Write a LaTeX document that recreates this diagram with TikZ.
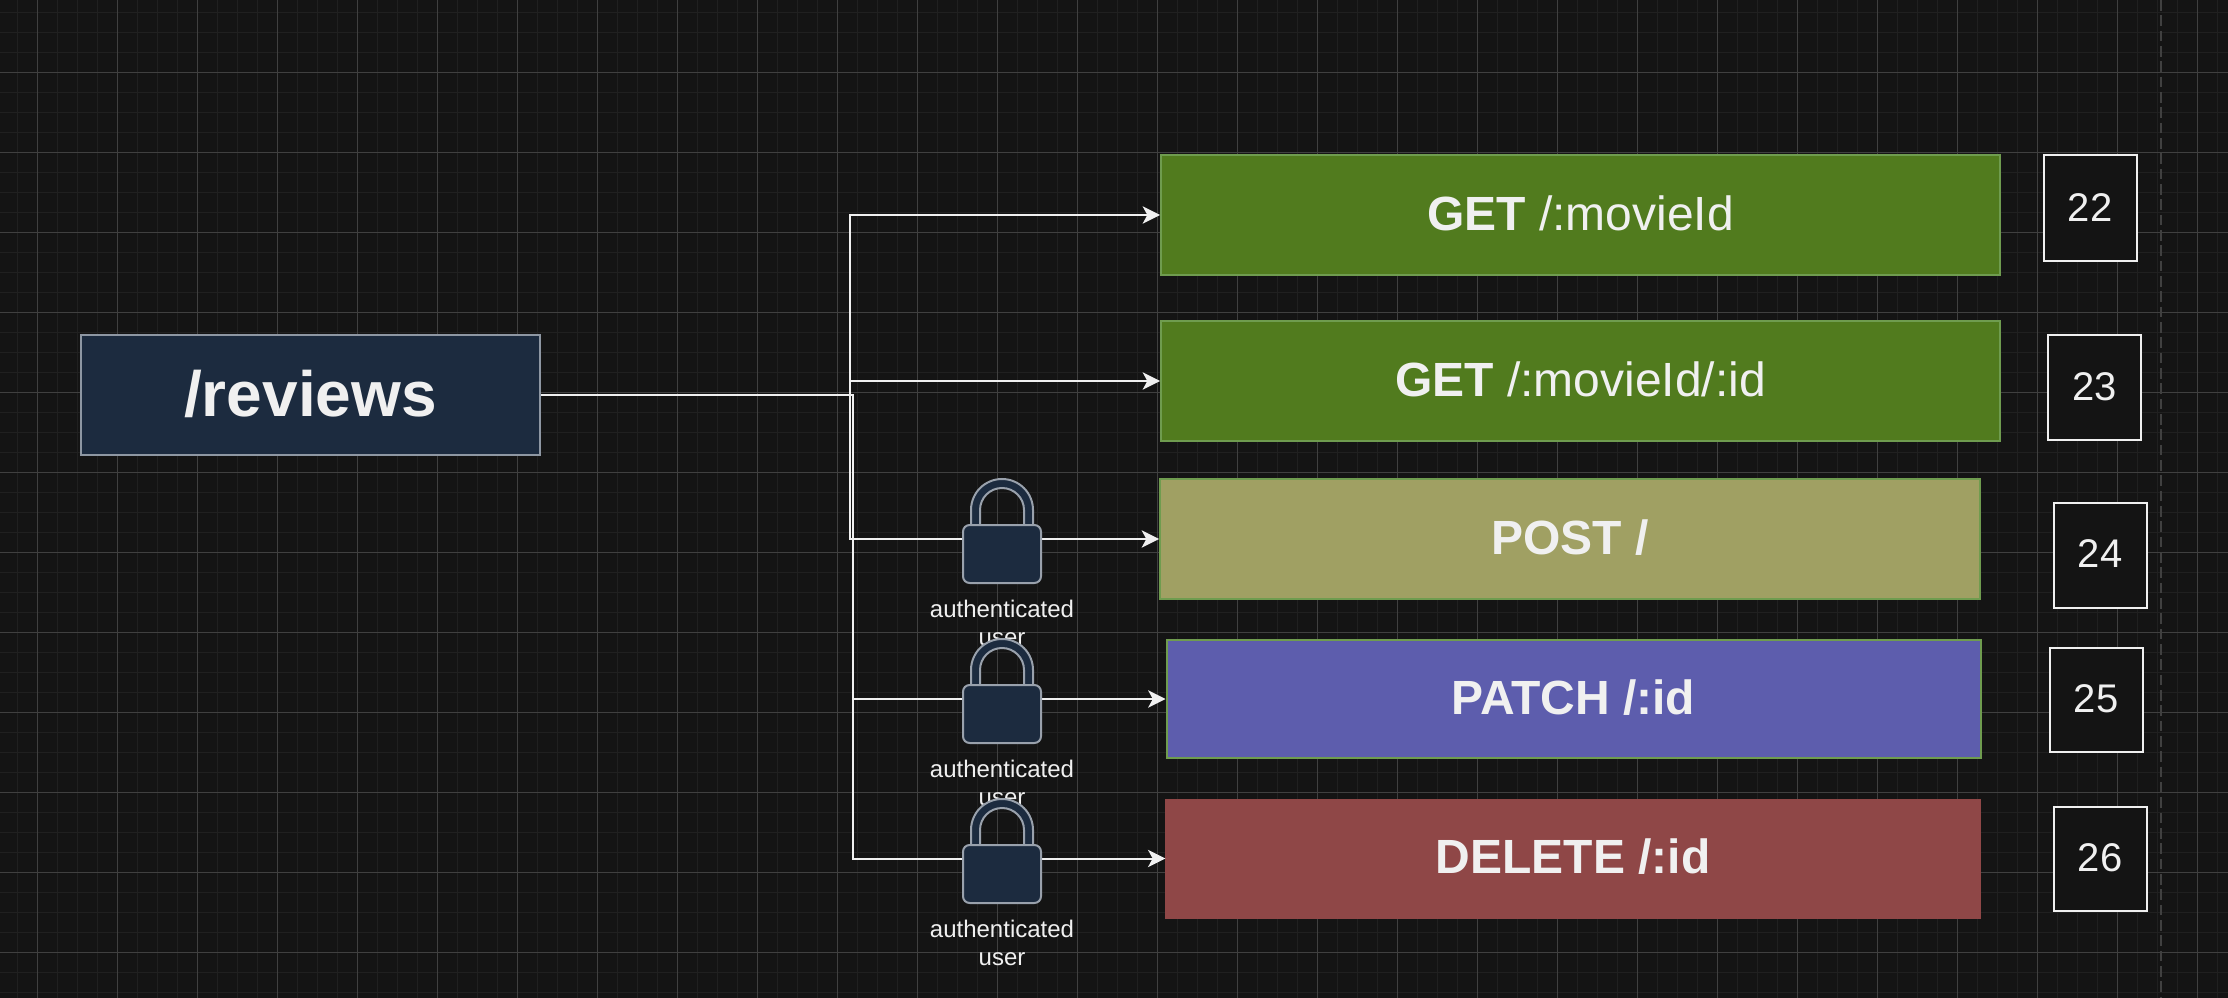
\documentclass[tikz,border=0pt]{standalone}
\usepackage{fontspec}
\setmainfont{Liberation Sans}
\usetikzlibrary{arrows.meta}
\definecolor{canvasbg}{HTML}{141414}
\definecolor{gridminor}{HTML}{202020}
\definecolor{gridmajor}{HTML}{404040}
\definecolor{inktext}{HTML}{F0F0F0}
\definecolor{navyfill}{HTML}{1C2B3F}
\definecolor{navyline}{HTML}{8E97A3}
\definecolor{greenfill}{HTML}{517B1E}
\definecolor{olivefill}{HTML}{A0A063}
\definecolor{indigofill}{HTML}{5D5DAD}
\definecolor{brickfill}{HTML}{8F4747}
\definecolor{routeline}{HTML}{6F9C4F}
\tikzset{
  route/.style={draw=routeline, line width=1.5pt, text=inktext, inner sep=0pt, text depth=3pt, font=\fontsize{36}{42}\selectfont},
  count/.style={draw=inktext, fill=canvasbg, line width=1.5pt, text=inktext, inner sep=0pt, text depth=1.5pt, font=\fontsize{30}{36}\selectfont},
  wire/.style={draw=inktext, line width=1.5pt},
  arrowwire/.style={wire, -{Stealth[length=13pt,width=13pt,inset=3.5pt]}},
  lockicon/.pic={
    \draw[draw=navyline!90!white, fill=navyfill, line width=1.5pt] (-31,0) -- (-31,-15) arc[start angle=180,end angle=360,radius=31] -- (31,0) -- (22,0) -- (22,-15) arc[start angle=0,end angle=-180,radius=22] -- (-22,0) -- cycle;
    \draw[draw=navyline!90!white, fill=navyfill, line width=1.5pt, rounded corners=5pt] (-39,0) rectangle (39,58);
    \node[text=inktext, align=center, inner sep=0pt, font=\fontsize{18}{21}\selectfont] (-text) at (0,97.5) {authenticated\\user};
  }
}
\begin{document}
\begin{tikzpicture}[x=0.75pt, y=-0.75pt]
  \path[use as bounding box, fill=canvasbg] (0,0) rectangle (2228,998);
  % grid
  \foreach \x in {17.5,37.5,...,2217.5} \draw[gridminor, line width=1.1pt] (\x,0) -- (\x,998);
  \foreach \y in {12.5,32.5,...,992.5} \draw[gridminor, line width=1.1pt] (0,\y) -- (2228,\y);
  \foreach \x in {37.5,117.5,...,2197.5} \draw[gridmajor, line width=0.9pt] (\x,0) -- (\x,998);
  \foreach \y in {72.5,152.5,...,952.5} \draw[gridmajor, line width=1.1pt] (0,\y) -- (2228,\y);
  \draw[gridmajor, line width=1.5pt, dash pattern=on 8pt off 3.5pt] (2161,0) -- (2161,998);
  % routes
  \node[draw=navyline, fill=navyfill, line width=1.5pt, text=inktext, inner sep=0pt, minimum width=344.25pt, minimum height=90pt, text depth=2pt, font=\fontsize{48}{56}\bfseries\selectfont] (reviews) at (310.5,395) {/reviews};
  \node[route, fill=greenfill, minimum width=629.25pt, minimum height=90pt] (getmovie) at (1580.5,215) {\textbf{GET} /:movieId};
  \node[route, fill=greenfill, minimum width=629.25pt, minimum height=90pt] (getone) at (1580.5,381) {\textbf{GET} /:movieId/:id};
  \node[route, fill=olivefill, minimum width=615pt, minimum height=90pt] (postroot) at (1570,539) {\textbf{POST /}};
  \node[route, fill=indigofill, minimum width=610.5pt, minimum height=88.5pt] (patchone) at (1573.5,699) {\textbf{PATCH /:id}};
  \node[route, draw=brickfill, fill=brickfill, minimum width=610pt, minimum height=88.5pt] (deleteone) at (1573,858.5) {\textbf{DELETE /:id}};
  % counts
  \node[count, minimum width=69.75pt, minimum height=79.5pt] (num22) at (2090,208.5) {22};
  \node[count, minimum width=69.75pt, minimum height=78.75pt] (num23) at (2094.5,388) {23};
  \node[count, minimum width=69.75pt, minimum height=78.75pt] (num24) at (2100,555) {24};
  \node[count, minimum width=69.75pt, minimum height=78pt] (num25) at (2096,699.5) {25};
  \node[count, minimum width=69.75pt, minimum height=78pt] (num26) at (2100,858.5) {26};
  % connectors
  \coordinate (splitup) at (850,395);
  \coordinate (splitdown) at (853,395);
  \draw[arrowwire] (reviews.east) -- (splitup) |- (getmovie.west);
  \draw[arrowwire] (reviews.east) -- (splitup) |- (getone.west);
  \draw[arrowwire] (reviews.east) -- (splitup) |- (postroot.west);
  \draw[arrowwire] (reviews.east) -- (splitdown) |- (patchone.west);
  \draw[arrowwire] (reviews.east) -- (splitdown) |- (deleteone.west);
  % locks
  \pic (lockpost) at (1002,525) {lockicon};
  \pic (lockpatch) at (1002,685) {lockicon};
  \pic (lockdelete) at (1002,845) {lockicon};
\end{tikzpicture}
\end{document}
